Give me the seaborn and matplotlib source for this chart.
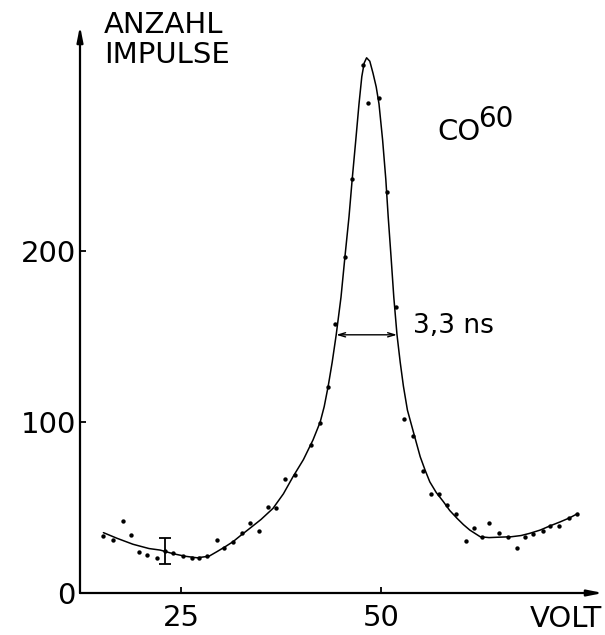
import numpy as np
import pandas as pd
import matplotlib
matplotlib.use("Agg")
import matplotlib.pyplot as plt
import seaborn as sns

# === Data ===
# measured points (volt, counts)
point_volt = [15.2, 16.5, 17.7, 18.7, 19.7, 20.8, 22.0, 23.0, 24.0, 25.3, 26.4, 27.3,
              28.3, 29.5, 30.4, 31.5, 32.6, 33.6, 34.8, 35.9, 36.9, 38.0, 39.3, 41.25,
              42.4, 43.4, 44.3, 45.5, 46.4, 47.7, 48.4, 49.8, 50.8, 51.9, 52.9, 54.0,
              55.2, 56.3, 57.3, 58.2, 59.4, 60.6, 61.6, 62.6, 63.5, 64.8, 65.9, 67.0,
              68.0, 69.0, 70.2, 71.1, 72.3, 73.5, 74.5]
point_counts = [33.5, 31.0, 42.3, 34.0, 24.0, 22.0, 20.3, 24.7, 23.6, 21.6, 20.5, 20.6,
                21.8, 31.0, 26.1, 30.0, 35.3, 41.1, 36.3, 50.5, 49.5, 66.8, 69.0, 86.5,
                99.4, 120.6, 157.3, 196.7, 241.9, 308.8, 286.7, 289.3, 234.7, 167.0, 101.8, 91.8,
                71.5, 57.9, 57.9, 51.5, 46.2, 30.4, 37.8, 32.6, 40.8, 34.9, 32.6, 26.5,
                32.9, 34.3, 36.3, 39.2, 39.2, 43.7, 46.4]

# hand drawn fit curve, traced
curve_volt = [15.3, 17.0, 19.0, 21.0, 22.4, 24.0, 25.5, 27.0, 28.5, 29.5, 30.5, 31.5,
              32.5, 33.6, 35.0, 36.5, 37.8, 39.0, 40.3, 41.5, 42.4, 42.9, 43.4, 43.9,
              44.4, 45.0, 45.5, 46.0, 46.4, 46.85, 47.25, 47.6, 47.9, 48.2,
              48.6, 49.0, 49.4, 49.75, 50.2, 50.6, 50.9, 51.25, 51.6, 52.0, 52.4, 52.8,
              53.3, 54.0, 54.9, 55.5, 56.1, 56.9, 57.8, 58.6, 59.5, 60.3,
              61.1, 62.4, 63.5, 64.5, 66.3, 67.5, 68.6, 69.9, 71.1, 72.4, 73.6, 74.6]
curve_counts = [35.3, 32.0, 28.5, 26.0, 25.1, 23.0, 21.5, 20.6, 21.5, 24.2, 27.0, 30.0,
                33.8, 37.8, 43.0, 49.5, 58.0, 68.0, 78.0, 89.5, 100.0, 109.0, 121.0, 135.0,
                151.0, 173.0, 197.0, 220.0, 242.0, 265.0, 286.0, 302.0, 310.0, 313.0,
                311.0, 304.0, 296.0, 286.0, 265.0, 242.0, 220.0, 197.0, 173.0, 151.0, 135.0, 121.0,
                107.0, 95.0, 79.7, 72.0, 65.0, 58.8, 53.4, 48.2, 43.7, 40.0,
                36.8, 32.9, 32.4, 32.6, 32.9, 33.6, 34.9, 36.8, 39.2, 41.6, 44.0, 46.5]

# error bar example
err_volt = [23.0]
err_counts = [24.7]
err_size = [7.5]

# half width marker
fwhm_left = 44.4
fwhm_right = 52.0
fwhm_level = 151.0

x_ticks = [25, 50]
y_ticks = [0, 100, 200]

points = pd.DataFrame({"volt": point_volt, "counts": point_counts})
curve = pd.DataFrame({"volt": curve_volt, "counts": curve_counts})

# === Plot ===
sns.set_style("ticks")
plt.rcParams["font.family"] = ["DejaVu Sans"]
plt.rcParams["text.color"] = "black"
plt.rcParams["xtick.color"] = "black"
plt.rcParams["ytick.color"] = "black"

W, H = 605, 635
fig = plt.figure(figsize=(W / 100, H / 100), dpi=100)
ax = fig.add_axes([80 / W, 1 - 593 / H, (603 - 80) / W, (593 - 26) / H])


def fx(px):
    return px / W


def fy(py):
    return 1 - py / H


sns.lineplot(data=curve, x="volt", y="counts", ax=ax, color="black", lw=1.1, sort=False)
sns.scatterplot(data=points, x="volt", y="counts", ax=ax, color="black", s=10, linewidth=0)
ax.errorbar(err_volt, err_counts, yerr=err_size, fmt="none", ecolor="black",
            elinewidth=1.3, capsize=4, capthick=1.3)

ax.annotate("", xy=(fwhm_left, fwhm_level), xytext=(fwhm_right, fwhm_level),
            arrowprops=dict(arrowstyle="<->,head_length=0.5,head_width=0.15",
                            color="black", lw=1.0, shrinkA=0, shrinkB=0))

ax.set_xlim(12.375, 77.75)
ax.set_ylim(0, 331.6)
ax.set_xticks(x_ticks)
ax.set_yticks(y_ticks)
ax.set_xlabel("")
ax.set_ylabel("")
ax.tick_params(axis="both", direction="in", length=4.5, width=1.3, labelsize=21,
               colors="black")
ax.tick_params(axis="x", pad=8)
ax.tick_params(axis="y", pad=3)
for s in ax.spines.values():
    s.set_visible(False)

# axes with arrow heads
arrow = dict(arrowstyle="-|>,head_length=0.9,head_width=0.18", color="black",
             lw=1.6, shrinkA=0, shrinkB=0)
ax.annotate("", xy=(0, 1), xytext=(0, 0), xycoords="axes fraction", arrowprops=arrow)
ax.annotate("", xy=(1, 0), xytext=(0, 0), xycoords="axes fraction", arrowprops=arrow)

# labels
fig.text(fx(104), fy(33), "ANZAHL", fontsize=21, va="baseline", ha="left")
fig.text(fx(104), fy(63), "IMPULSE", fontsize=21, va="baseline", ha="left")
fig.text(fx(530), fy(627), "VOLT", fontsize=21, va="baseline", ha="left")
fig.text(fx(437), fy(140), "CO", fontsize=21, va="baseline", ha="left")
fig.text(fx(478), fy(127), "60", fontsize=20, va="baseline", ha="left")
fig.text(fx(413), fy(333), "3,3 ns", fontsize=19, va="baseline", ha="left")

fig.savefig("out.png", dpi=100)
